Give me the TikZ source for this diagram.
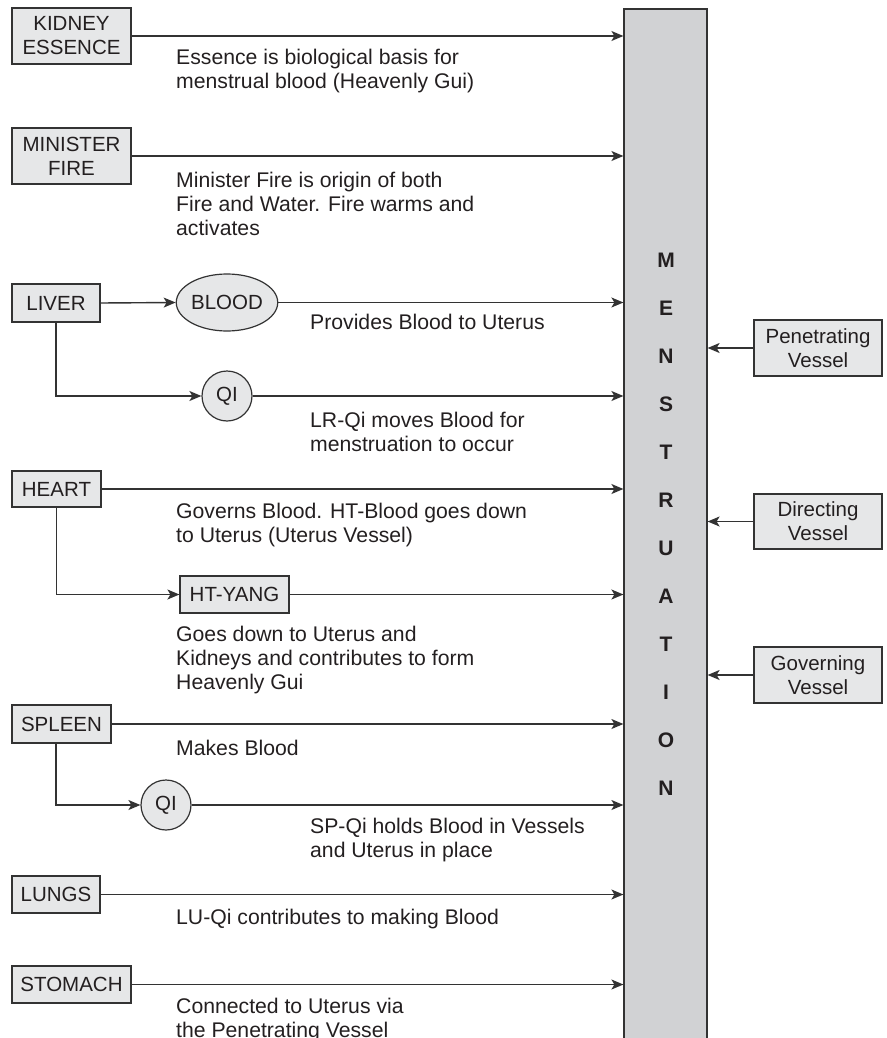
\documentclass[tikz,border=0pt]{standalone}
\usepackage{fontspec}
\setmainfont{Liberation Sans}
\usetikzlibrary{arrows.meta,calc,shapes.geometric}
\definecolor{ink}{HTML}{231F20}
\definecolor{linec}{HTML}{333333}
\definecolor{boxfill}{HTML}{E6E7E8}
\definecolor{barfill}{HTML}{D1D2D4}
\begin{document}
\begin{tikzpicture}[x=1pt,y=-1pt,
  box/.style={draw=linec, line width=1.2pt, fill=boxfill, inner sep=0pt, align=center,
    font=\fontsize{20.5}{24}\selectfont, text=ink},
  txt/.style={anchor=base west, align=left, inner sep=0pt,
    font=\fontsize{21.2}{24}\selectfont, text=ink},
  arr/.style={draw=linec, line width=1.4pt, -{Stealth[length=12pt,width=10pt,inset=3pt]}}]
\useasboundingbox (0,0) rectangle (886,1038);
\clip (0,0) rectangle (886,1038);

% central bar
\node[draw=linec, fill=barfill, line width=1.2pt, minimum width=83, minimum height=1036, inner sep=0pt] (bar) at (665.5,527) {};
\node[align=center, inner sep=0pt, text=ink, font=\bfseries\fontsize{21}{48}\selectfont] (title) at (666,524)
  {M\\E\\N\\S\\T\\R\\U\\A\\T\\I\\O\\N};

% left boxes
\node[box, minimum width=119, minimum height=56] (kidney) at (71.5,36) {KIDNEY\\ESSENCE};
\node[box, minimum width=119, minimum height=56] (minister) at (71.5,156) {MINISTER\\FIRE};
\node[box, minimum width=88, minimum height=38] (liver) at (56,303) {LIVER};
\node[box, ellipse, minimum width=92, minimum height=57] (blood) at (227,302.5) {BLOOD};
\node[box, circle, minimum size=50] (qia) at (227,396) {QI};
\node[box, minimum width=89, minimum height=36] (heart) at (56.5,489) {HEART};
\node[box, minimum width=109, minimum height=37] (htyang) at (234.5,594.5) {HT-YANG};
\node[box, minimum width=99, minimum height=38] (spleen) at (61.5,724) {SPLEEN};
\node[box, circle, minimum size=50] (qib) at (166,805) {QI};
\node[box, minimum width=88, minimum height=37] (lungs) at (56,894.5) {LUNGS};
\node[box, minimum width=119, minimum height=37] (stomach) at (71.5,984.5) {STOMACH};

% right boxes
\node[box, minimum width=128, minimum height=56] (penet) at (818,348) {Penetrating\\Vessel};
\node[box, minimum width=128, minimum height=55] (direct) at (818,521.5) {Directing\\Vessel};
\node[box, minimum width=128, minimum height=56] (govern) at (818,675) {Governing\\Vessel};

% connectors into the bar
\draw[arr] (kidney.east) -- (kidney.east -| bar.west);
\draw[arr] (minister.east) -- (minister.east -| bar.west);
\draw[arr] (liver.east) -- (blood.west);
\draw[arr] (blood.east) -- (blood.east -| bar.west);
\draw[arr] (liver.south) |- (qia.west);
\draw[arr] (qia.east) -- (qia.east -| bar.west);
\draw[arr] (heart.east) -- (heart.east -| bar.west);
\draw[arr] (heart.south) |- (htyang.west);
\draw[arr] (htyang.east) -- (htyang.east -| bar.west);
\draw[arr] (spleen.east) -- (spleen.east -| bar.west);
\coordinate (spfoot) at ([xshift=-5.5pt]spleen.south);
\draw[arr] (spfoot) |- (qib.west);
\draw[arr] (qib.east) -- (qib.east -| bar.west);
\draw[arr] (lungs.east) -- (lungs.east -| bar.west);
\draw[arr] (stomach.east) -- (stomach.east -| bar.west);

% connectors from the vessels
\draw[arr] (penet.west) -- (penet.west -| bar.east);
\draw[arr] (direct.west) -- (direct.west -| bar.east);
\draw[arr] (govern.west) -- (govern.west -| bar.east);

% descriptions (y = baseline of the last line)
\node[txt] (t1) at (176,89) {Essence is biological basis for\\menstrual blood (Heavenly Gui)};
\node[txt] (t2) at (176,235) {Minister Fire is origin of both\\Fire and Water. Fire warms and\\activates};
\node[txt] (t3) at (310,329) {Provides Blood to Uterus};
\node[txt] (t4) at (310,451) {LR-Qi moves Blood for\\menstruation to occur};
\node[txt] (t5) at (176,542) {Governs Blood. HT-Blood goes down\\to Uterus (Uterus Vessel)};
\node[txt] (t6) at (176,689) {Goes down to Uterus and\\Kidneys and contributes to form\\Heavenly Gui};
\node[txt] (t7) at (176,755) {Makes Blood};
\node[txt] (t8) at (310,857) {SP-Qi holds Blood in Vessels\\and Uterus in place};
\node[txt] (t9) at (176,924) {LU-Qi contributes to making Blood};
\node[txt] (t10) at (176,1037) {Connected to Uterus via\\the Penetrating Vessel};
\end{tikzpicture}
\end{document}
